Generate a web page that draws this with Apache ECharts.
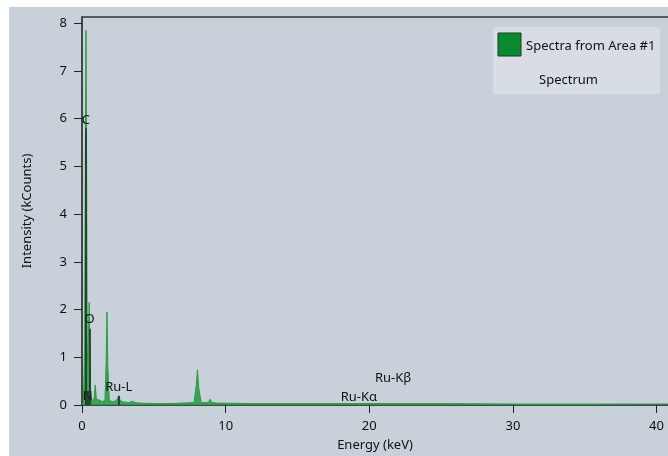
<!DOCTYPE html>
<html>
<head>
<meta charset="utf-8">
<script src="https://cdn.jsdelivr.net/npm/echarts@6/dist/echarts.min.js"></script>
<style>
  html, body { margin: 0; padding: 0; background: #fff; }
  #chart { position: absolute; left: 9px; top: 7px; width: 659px; height: 449px; }
</style>
</head>
<body>
<div id="chart"></div>
<script>
// spectrum (keV, kCounts)
const energy = [0, 0.1, 0.18, 0.24, 0.28, 0.32, 0.36, 0.40, 0.45, 0.50, 0.55, 0.6, 0.7, 0.85, 0.92, 1.0, 1.1, 1.25, 1.4, 1.6, 1.68, 1.74, 1.8, 1.9, 2.1, 2.3, 2.45, 2.56, 2.65, 2.8, 3.0, 3.3, 3.5, 3.7, 4.0, 5, 6, 7, 7.8, 7.95, 8.04, 8.13, 8.3, 8.8, 8.92, 9.05, 9.4, 12, 16, 19.3, 21.7, 25, 30, 35, 40.8]
const counts = [0, 0.05, 1.2, 5.5, 7.85, 5.0, 1.3, 0.9, 1.5, 2.15, 1.2, 0.25, 0.08, 0.15, 0.42, 0.12, 0.08, 0.1, 0.07, 0.1, 0.9, 1.95, 0.8, 0.1, 0.07, 0.08, 0.12, 0.2, 0.1, 0.07, 0.06, 0.05, 0.08, 0.05, 0.04, 0.03, 0.03, 0.04, 0.05, 0.4, 0.74, 0.35, 0.05, 0.05, 0.12, 0.05, 0.04, 0.03, 0.03, 0.03, 0.03, 0.03, 0.02, 0.02, 0.02]

// element markers
const elementNames = ['C', 'N', 'O', 'Ru-L', 'Ru-Kα', 'Ru-Kβ']
const elementEnergies = [0.277, 0.392, 0.525, 2.558, 19.28, 21.66]
const elementLabelY = [5.97, 0.18, 1.8, 0.37, 0.17, 0.55]
const elementLineTop = [5.8, 0.3, 1.6, 0.19, 0, 0]

const xTicks = [0, 10, 20, 30, 40]
const yTicks = [0, 1, 2, 3, 4, 5, 6, 7, 8]

const font = '"Noto Sans", "Open Sans", sans-serif'
const chart = echarts.init(document.getElementById('chart'))

const spectrum = energy.map((e, i) => [e, counts[i]])
const labels = elementNames.map((n, i) => ({ name: n, value: [elementEnergies[i], elementLabelY[i]] }))
const markerLines = elementNames
  .map((n, i) => [{ coord: [elementEnergies[i], 0] }, { coord: [elementEnergies[i], elementLineTop[i]] }])
  .filter((p) => p[1].coord[1] > 0)

chart.setOption({
  backgroundColor: '#c8d1d9',
  animation: false,
  textStyle: { fontFamily: font },
  grid: { left: 73, right: 0, top: 10, bottom: 51, containLabel: false, outerBoundsMode: 'none' },
  xAxis: [
    {
      type: 'value',
      min: 0,
      max: 40.8,
      interval: 10,
      name: 'Energy (keV)',
      nameLocation: 'middle',
      nameGap: 34,
      nameTextStyle: { color: '#111', fontSize: 13 },
      axisLine: { lineStyle: { color: '#1a1a1a', width: 1.5 } },
      axisTick: { inside: false, length: 8, lineStyle: { color: '#222' }, customValues: xTicks },
      axisLabel: {
        color: '#111', fontSize: 13, margin: 15, customValues: xTicks,
        formatter: (v) => (v % 10 === 0 ? v : '')
      },
      splitLine: { show: false }
    },
    {
      type: 'value',
      position: 'top',
      min: 0,
      max: 40.8,
      axisLine: { show: true, lineStyle: { color: '#333', width: 1.5 } },
      axisTick: { show: false },
      axisLabel: { show: false },
      splitLine: { show: false }
    }
  ],
  yAxis: {
    type: 'value',
    min: 0,
    max: 8.13,
    interval: 1,
    name: 'Intensity (kCounts)',
    nameLocation: 'middle',
    nameGap: 48,
    nameTextStyle: { color: '#111', fontSize: 13 },
    axisLine: { show: true, lineStyle: { color: '#1a1a1a', width: 1.5 } },
    axisTick: { show: true, length: 8, lineStyle: { color: '#222' }, customValues: yTicks },
    axisLabel: {
      color: '#111', fontSize: 13, margin: 15, customValues: yTicks,
      formatter: (v) => (Number.isInteger(v) ? v : '')
    },
    splitLine: { show: false }
  },
  series: [
    {
      name: 'Spectra from Area #1',
      type: 'line',
      data: spectrum,
      symbol: 'none',
      lineStyle: { color: '#2a9d45', width: 1 },
      areaStyle: { color: '#2a9d45', opacity: 0.9 },
      z: 2
    },
    {
      type: 'scatter',
      data: labels,
      symbolSize: 0,
      itemStyle: { opacity: 1 },
      label: {
        show: true,
        position: 'inside',
        formatter: '{b}',
        color: '#111',
        fontSize: 13,
        fontFamily: font
      },
      markLine: {
        silent: true,
        symbol: ['none', 'none'],
        label: { show: false },
        lineStyle: { color: '#1a2a1c', width: 1.5, type: 'solid' },
        data: markerLines
      },
      z: 3
    }
  ],
  graphic: [
    {
      type: 'group',
      left: 484,
      top: 20,
      children: [
        { type: 'rect', shape: { x: 0, y: 0, width: 167, height: 67, r: 3 }, style: { fill: '#d7dde3' } },
        { type: 'rect', shape: { x: 5, y: 6, width: 23, height: 23 }, style: { fill: '#0a8a30', stroke: '#1f3a24', lineWidth: 1 } },
        { type: 'text', x: 33, y: 19, style: { text: 'Spectra from Area #1', fill: '#111', font: '13px ' + font, textVerticalAlign: 'middle' } },
        { type: 'text', x: 46, y: 53, style: { text: 'Spectrum', fill: '#111', font: '13px ' + font, textVerticalAlign: 'middle' } }
      ]
    }
  ]
})
</script>
</body>
</html>
